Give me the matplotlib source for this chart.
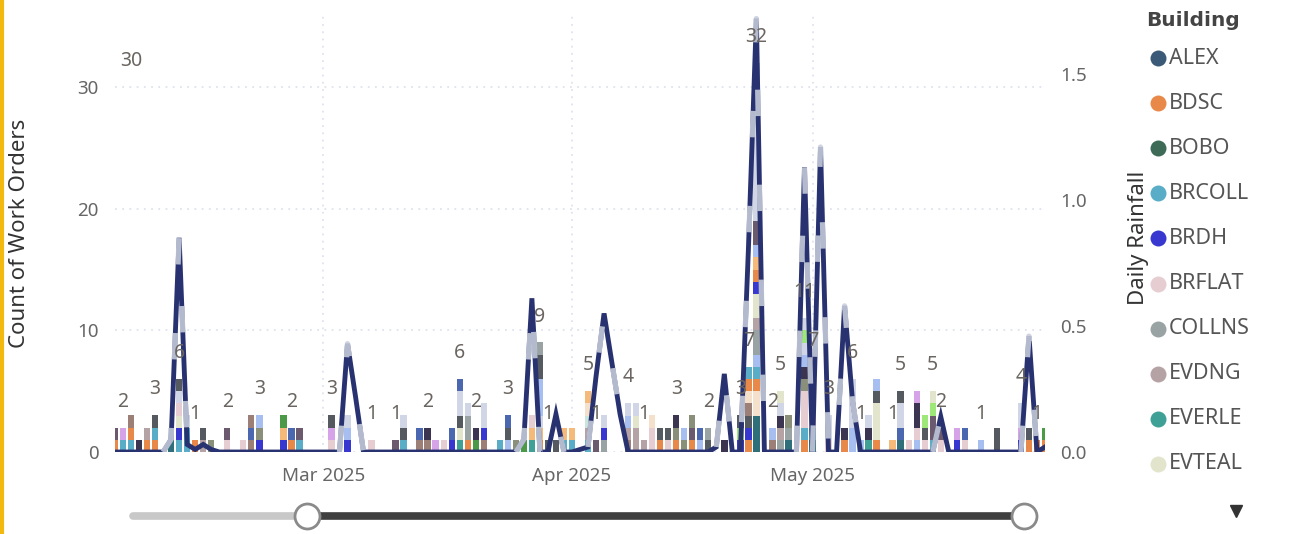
import datetime as dt
import numpy as np
import matplotlib
matplotlib.use("Agg")
import matplotlib.pyplot as plt
import matplotlib.dates as mdates

plt.rcParams['font.family'] = ['Noto Sans', 'DejaVu Sans']

# ---------------- data ----------------
start_date = dt.date(2025, 2, 3)
n_days = 117

legend_buildings = ["ALEX", "BDSC", "BOBO", "BRCOLL", "BRDH",
                    "BRFLAT", "COLLNS", "EVDNG", "EVERLE", "EVTEAL"]
legend_colors = ["#3b5a78", "#e8894a", "#3e6b58", "#5aadc6", "#3838d0",
                 "#e5cdd2", "#9aa3a3", "#b5a2a4", "#3fa095", "#e2e5cb"]
legend_codes = "ABCDEFGHIJ"
# further buildings (hidden behind the legend scroll arrow)
other_codes = "klmnopqrstuvwxy"
other_colors = ["#6b5a6e", "#d7a3e8", "#555a60", "#a7bff0", "#4a9a48",
                "#f5b97a", "#4a67b0", "#3b3552", "#8a8f7a", "#d0d6e6",
                "#9ee87a", "#9c8077", "#2f6f7a", "#f5e0cc", "#c8e6dc"]

# work orders per day: one letter per work order, stacked bottom -> top
day_stacks = {
    0: "Bk", 1: "Dl", 2: "DBv", 3: "r", 4: "BH", 5: "BDm", 7: "wt",
    8: "DEJFtm", 9: "DDt", 10: "B", 11: "Hm", 12: "s", 14: "Fk", 16: "F",
    17: "vqv", 18: "Esn", 21: "Epo", 22: "Bq", 23: "Dk", 27: "Flm",
    29: "Ent", 32: "F", 35: "k", 36: "Dmt", 38: "vq", 39: "vr", 40: "l",
    41: "F", 42: "Eq", 43: "IJmttq", 44: "BGGt", 45: "or", 46: "vEtt",
    48: "D", 49: "nmq", 50: "s", 51: "o", 52: "IpF", 53: "BptnnnmmG",
    54: "m", 55: "m", 56: "Dp", 57: "Dp", 59: "DHyxp", 60: "k", 61: "GEt",
    64: "vHnt", 65: "HHJt", 66: "H", 67: "FFx", 68: "Bm", 69: "Fm",
    70: "Bsr", 71: "sn", 72: "Bks", 73: "nq", 74: "mG", 76: "r",
    78: "Eum", 79: "BEmvxBD", 80: "wwwxxBDnGGHJJEBpnkkttttttttttttt",
    82: "vn", 83: "GHrtJ", 84: "wGs", 86: "BDFFFsrntut", 87: "wDFFnqt",
    89: "Ftt", 91: "Br", 92: "nntttt", 93: "n", 94: "Irt", 95: "BJJJmn",
    97: "p", 98: "wqttm", 99: "F", 100: "nFrrl", 101: "Fmu",
    102: "DkkuJ", 103: "Fk", 105: "El", 106: "Fq", 108: "n", 110: "mm",
    113: "Eltt", 114: "Bm", 115: "B", 116: "Bo",
}

# daily rainfall (days not listed are 0)
rainfall = {
    7: 0.05, 8: 0.85, 9: 0.03, 10: 0.01, 11: 0.03, 12: 0.01,
    29: 0.43, 30: 0.22, 51: 0.05, 52: 0.61, 55: 0.15,
    58: 0.01, 59: 0.02, 60: 0.30, 61: 0.55, 62: 0.35, 63: 0.15,
    75: 0.02, 76: 0.31, 79: 0.80, 80: 1.72, 86: 1.13, 88: 1.21,
    91: 0.58, 92: 0.20, 103: 0.14, 114: 0.46, 116: 0.02,
}

# days whose column total is shown as a data label
label_days = [1, 5, 8, 10, 14, 18, 22, 27, 32, 35, 39, 43, 45, 49, 53, 54,
              59, 60, 64, 66, 70, 74, 78, 79, 80, 82, 83, 86, 87, 89, 92,
              93, 97, 98, 102, 103, 108, 113, 115]
stray_label_day = 2.5
stray_label_value = 30

left_ticks = [0, 10, 20, 30]
right_ticks = [0.0, 0.5, 1.0, 1.5]

# ---------------- figure ----------------
W, H = 1307, 534
fig = plt.figure(figsize=(W / 100, H / 100), dpi=100)
fig.patch.set_facecolor("white")

ax_l, ax_r, ax_t, ax_b = 115, 1045, 14, 452
ax = fig.add_axes([ax_l / W, 1 - ax_b / H, (ax_r - ax_l) / W, (ax_b - ax_t) / H])
ax.set_facecolor("none")

code_color = dict(zip(legend_codes, legend_colors))
code_color.update(dict(zip(other_codes, other_colors)))

def xdate(d):
    return mdates.date2num(start_date + dt.timedelta(days=float(d)))

# stacked columns
for d, stack in day_stacks.items():
    for i, c in enumerate(stack):
        ax.bar(xdate(d), 1, bottom=i, width=0.8, color=code_color[c],
               linewidth=0, zorder=2)

ax.set_ylim(0, 36)
ax.set_xlim(xdate(0), xdate(116.25))
ax.set_yticks(left_ticks)
ax.xaxis.set_major_locator(mdates.MonthLocator())
ax.xaxis.set_major_formatter(mdates.DateFormatter("%b %Y"))
ax.tick_params(axis="both", length=0, colors="#666666", labelsize=13.5)
ax.tick_params(axis="y", pad=12)
ax.tick_params(axis="x", pad=11)
ax.grid(True, axis="both", color="#dfe3ee", linestyle=(0, (1, 3)), linewidth=1.3)
ax.set_axisbelow(True)
for s in ax.spines.values():
    s.set_visible(False)
ax.set_ylabel("Count of Work Orders", fontsize=16, color="#333333")
ax.yaxis.set_label_coords((30 - ax_l) / (ax_r - ax_l), 0.50)

# rainfall line on secondary axis
ax2 = ax.twinx()
ax2.set_ylim(0, 1.738)
ax2.set_yticks(right_ticks)
ax2.set_yticklabels([f"{v:.1f}" for v in right_ticks])
ax2.tick_params(axis="y", length=0, colors="#666666", labelsize=13.5, pad=11)
for s in ax2.spines.values():
    s.set_visible(False)
ax2.set_ylabel("Daily Rainfall", fontsize=16, color="#333333")
ax2.yaxis.set_label_coords((1128 - ax_l) / (ax_r - ax_l), 0.49)

days = np.arange(n_days)
rain = np.array([rainfall.get(int(d), 0.0) for d in days])
xs = np.array([xdate(d) for d in days])
ax2.plot(xs, rain, color="#283271", linewidth=3.5, solid_joinstyle="miter",
         zorder=3)
# lighter overlay pieces on the raised parts of the line
active = np.zeros(n_days, bool)
for i in range(n_days):
    if rain[max(i - 1, 0):i + 2].max() > 0.03:
        active[i] = True
rain_hi = np.ma.masked_where(~active, rain)
ax2.plot(xs, rain_hi, color="#c9cedc", linewidth=3.8, alpha=0.88,
         dashes=(5, 13), dash_capstyle="butt", zorder=4)

# data labels
off_pts = 26 * 72 / 100
for d in label_days:
    tot = len(day_stacks[d])
    ax2.annotate(str(tot), xy=(xdate(d), tot), xycoords=ax.transData,
                 xytext=(0, off_pts), textcoords="offset points",
                 ha="center", va="center", fontsize=14, color="#6a6560",
                 zorder=6)
ax2.annotate(str(stray_label_value), xy=(xdate(stray_label_day), stray_label_value),
             xycoords=ax.transData, xytext=(0, off_pts),
             textcoords="offset points", ha="center", va="center",
             fontsize=14, color="#6a6560", zorder=6)

# ---------------- overlay: legend, slider, border ----------------
ov = fig.add_axes([0, 0, 1, 1], zorder=-1)
ov.set_xlim(0, W)
ov.set_ylim(H, 0)
ov.axis("off")

ov.text(1146, 20, "Building", fontsize=14.5, fontweight="bold",
        family=["DejaVu Sans"], color="#444444", ha="left", va="center")
for i, (name, col) in enumerate(zip(legend_buildings, legend_colors)):
    y = 58 + 45.1 * i
    ov.plot(1158, y, marker="o", markersize=11.5, color=col, markeredgewidth=0)
    ov.text(1169, y, name, fontsize=15.5, color="#555555", ha="left", va="center")
ov.plot(1236, 511, marker="v", markersize=8, color="#333333")

ov.plot([133, 307], [516, 516], color="#c8c8c8", linewidth=5.5,
        solid_capstyle="round")
ov.plot([307, 1024], [516, 516], color="#3f3f3f", linewidth=5.5)
for cx in (307, 1024):
    ov.plot(cx, 516, marker="o", markersize=18, markerfacecolor="white",
            markeredgecolor="#8a8a8a", markeredgewidth=2)
ov.plot([1.5, 1.5], [0, H], color="#f2b90f", linewidth=3)

fig.savefig("out.png", dpi=100, facecolor="white")
